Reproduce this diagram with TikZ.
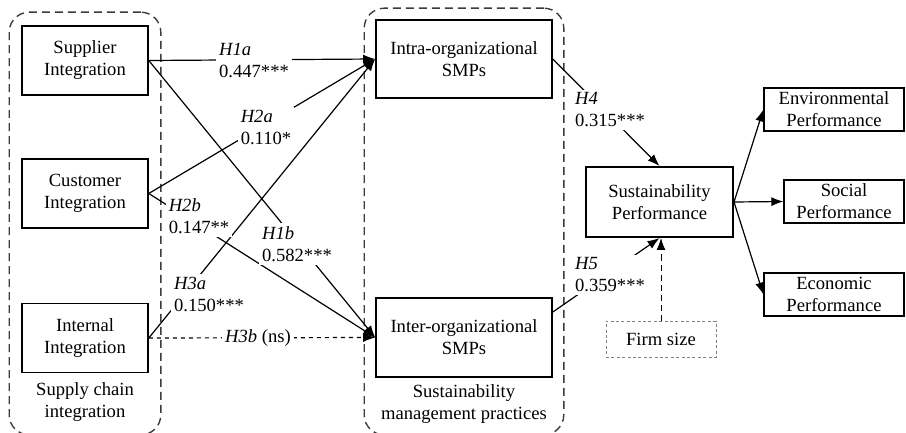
\documentclass[tikz,border=0pt]{standalone}
\usepackage{fontspec}
\setmainfont{Liberation Serif}
\usepackage{xcolor}
\usetikzlibrary{positioning,fit,arrows.meta}
\definecolor{mygray}{RGB}{60,60,60}

\begin{document}
\begin{tikzpicture}[
          x=0.5pt,y=-0.5pt,
          font=\fontsize{9.3}{11}\selectfont,
          >={Latex[length=6pt,width=4.5pt]},
          varnode/.style={draw,line width=0.8pt,align=center,inner sep=1pt},
          perfnode/.style={varnode,line width=0.6pt,minimum height=21.5pt},
          hyplabel/.style={fill=white,align=left,inner sep=1.5pt},
          grouplabel/.style={align=center,inner sep=0pt},
          every fit/.style={draw=mygray,dash pattern=on 4pt off 2.5pt,rounded corners=10pt,line width=0.7pt},
          link/.style={->,line width=0.6pt}
          ]
          \useasboundingbox (0,0) rectangle (906,433);

          % the integration constructs
          \foreach \i/\ycoord/\txt in {1/60.5/Supplier,2/193.5/Customer,3/338/Internal}
            \node[varnode,minimum width=63pt,minimum height=34.5pt] (sci\i) at (85,\ycoord) {\txt\\Integration};
          \node[grouplabel] (scilab) at (85,402) {Supply chain\\integration};

          % the practices
          \node[varnode,minimum width=88pt,minimum height=39pt] (intra) at (464,59) {Intra-organizational\\SMPs};
          \node[varnode,minimum width=88pt,minimum height=39.5pt] (inter) at (464,337.5) {Inter-organizational\\SMPs};
          \node[grouplabel] (smplab) at (464,404) {Sustainability\\management practices};

          % the performance side
          \node[varnode,line width=1pt,minimum width=73.5pt,minimum height=35pt] (sust) at (659.5,202) {Sustainability\\Performance};
          \node[perfnode,minimum width=70pt] (perf1) at (834,109.5) {Environmental\\Performance};
          \node[perfnode,minimum width=60pt] (perf2) at (844,201.5) {Social\\Performance};
          \node[perfnode,minimum width=70pt] (perf3) at (834,294.5) {Economic\\Performance};
          \node[draw=gray,line width=0.5pt,dash pattern=on 1.5pt off 1.2pt,minimum width=55pt,minimum height=18pt] (firm) at (661,339) {Firm size};

          % the groups
          \node[fit=(sci1) (sci3) (scilab),inner xsep=6pt,inner ysep=6.5pt] (scigroup) {};
          \node[fit=(intra) (inter) (smplab),inner sep=5.5pt] (smpgroup) {};

          % the paths
          \draw[link] (sci1.east) -- (intra.west);
          \draw[link] (sci2.east) -- (intra.west);
          \draw[link] (sci3.east) -- (intra.west);
          \draw[link] (sci1.east) -- (inter.west);
          \draw[link] (sci2.east) -- (inter.west);
          \draw[link,dash pattern=on 2pt off 2pt] (sci3.east) -- (inter.west);
          \draw[link] (intra.east) -- (sust.north);
          \draw[link] (inter.16) -- (sust.south);
          \draw[link,line width=0.5pt,dash pattern=on 3pt off 2pt] (firm.north) -- (firm.north |- sust.south);
          \foreach \j in {1,2,3}
            \draw[link] (sust.east) -- (perf\j.west);

          % the estimates
          \node[hyplabel] (h1a) at (254,60) {\textit{H1a}\\0.447***};
          \node[hyplabel] (h2a) at (266,127) {\textit{H2a}\\0.110*};
          \node[hyplabel] (h3a) at (209,294) {\textit{H3a}\\0.150***};
          \node[hyplabel] (h1b) at (297,244) {\textit{H1b}\\0.582***};
          \node[hyplabel] (h2b) at (199,216) {\textit{H2b}\\0.147**};
          \node[hyplabel] (h3b) at (258,338) {\textit{H3b} (ns)};
          \node[hyplabel] (h4) at (610,110) {\textit{H4}\\0.315***};
          \node[hyplabel] (h5) at (610,275) {\textit{H5}\\0.359***};
        \end{tikzpicture}
\end{document}
